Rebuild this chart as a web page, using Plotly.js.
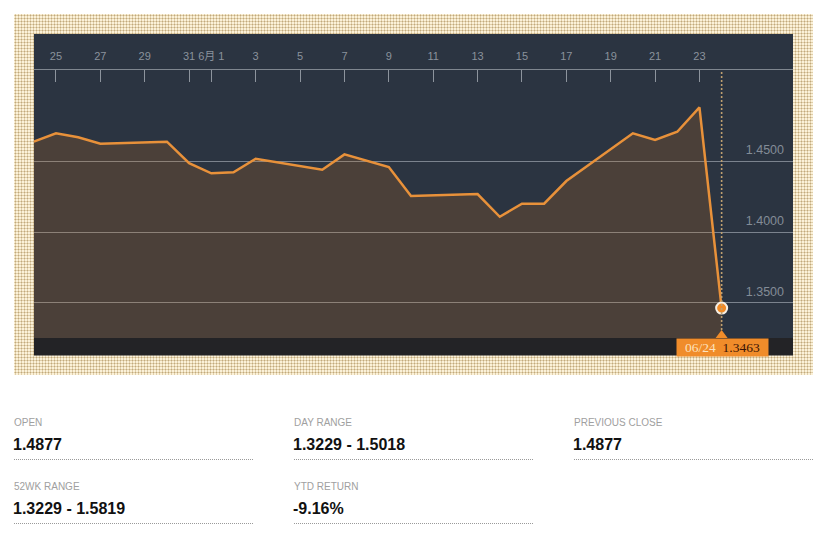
<!DOCTYPE html>
<html>
<head>
<meta charset="utf-8">
<script src="https://cdn.plot.ly/plotly-3.0.1.min.js"></script>
<style>
  html, body { margin: 0; padding: 0; background: #ffffff; }
  #wrap { position: relative; width: 825px; height: 549px; overflow: hidden; }
  #frame {
    position: absolute; left: 14px; top: 14px; width: 799px; height: 361px;
    background-color: #fbf1d8;
    background-image: radial-gradient(circle, #c2a97b 0.9px, rgba(0,0,0,0) 1.1px);
    background-size: 3px 3px;
  }
  #chart { position: absolute; left: 0; top: 0; width: 825px; height: 549px; }
</style>
</head>
<body>
<div id="wrap">
  <div id="frame"></div>
  <div id="chart"></div>
</div>
<script>
// ---- data ----
const dates = ['2016-05-24','2016-05-25','2016-05-26','2016-05-27','2016-05-30','2016-05-31',
  '2016-06-01','2016-06-02','2016-06-03','2016-06-06','2016-06-07','2016-06-08','2016-06-09',
  '2016-06-10','2016-06-13','2016-06-14','2016-06-15','2016-06-16','2016-06-17','2016-06-20',
  '2016-06-21','2016-06-22','2016-06-23','2016-06-24'];
const rates = [1.4642,1.4701,1.4673,1.4627,1.4642,1.4489,
  1.4418,1.4425,1.4521,1.4443,1.4552,1.4505,1.4462,
  1.4257,1.4271,1.4110,1.4203,1.4203,1.4363,1.4701,
  1.4654,1.4712,1.4885,1.3463];
const tickDates = ['2016-05-25','2016-05-27','2016-05-29','2016-05-31','2016-06-01','2016-06-03',
  '2016-06-05','2016-06-07','2016-06-09','2016-06-11','2016-06-13','2016-06-15','2016-06-17',
  '2016-06-19','2016-06-21','2016-06-23'];
const tickLabels = ['25','27','29','31','6月 1','3','5','7','9','11','13','15','17','19','21','23'];
const yTicks = [1.35, 1.40, 1.45];
const lastDateLabel = '06/24';
const statLabels = ['OPEN','DAY RANGE','PREVIOUS CLOSE','52WK RANGE','YTD RETURN'];
const statValues = ['1.4877','1.3229 - 1.5018','1.4877','1.3229 - 1.5819','-9.16%'];

// ---- layout helpers (pixel -> paper) ----
const W = 825, H = 549, L = 34, R = 32, T = 70, B = 211;
const PW = W - L - R, PH = H - T - B;
const px = x => (x - L) / PW;
const py = y => (H - B - y) / PH;

const lastIdx = rates.length - 1;

const traces = [
  {
    x: dates, y: rates, type: 'scatter', mode: 'lines',
    line: { color: '#e8913a', width: 2.5 },
    fill: 'tozeroy', fillcolor: 'rgba(220,120,20,0.18)',
    hoverinfo: 'skip', showlegend: false
  },
  {
    x: [dates[lastIdx]], y: [rates[lastIdx]], type: 'scatter', mode: 'markers',
    marker: { size: 11, color: '#f08a26', line: { color: '#f6efe4', width: 2 } },
    hoverinfo: 'skip', showlegend: false, cliponaxis: false
  }
];

const shapes = [
  // navy panel
  { type: 'rect', xref: 'paper', yref: 'paper', x0: 0, x1: 1, y0: 0, y1: py(34),
    fillcolor: '#2b3441', line: { width: 0 }, layer: 'below' },
  // dark bottom strip
  { type: 'rect', xref: 'paper', yref: 'paper', x0: 0, x1: 1, y0: py(355.5), y1: 0,
    fillcolor: '#232326', line: { width: 0 }, layer: 'above' },
  // vertical dotted line at last date
  { type: 'line', xref: 'x', yref: 'paper', x0: dates[lastIdx], x1: dates[lastIdx], y0: 0, y1: 1,
    line: { color: '#bfa070', width: 1.6, dash: '2px,2px' }, layer: 'above' },
  // triangle pointer
  { type: 'path', xref: 'x', yref: 'paper', xsizemode: 'pixel', ysizemode: 'pixel',
    xanchor: dates[lastIdx], yanchor: 0,
    path: 'M -6 0 L 0 8 L 6 0 Z', fillcolor: '#f08c2a', line: { width: 0 }, layer: 'above' }
];

const annotations = [
  {
    xref: 'x', yref: 'paper', x: dates[lastIdx], y: py(347.2), xanchor: 'center', yanchor: 'middle',
    xshift: 1.3, showarrow: false, width: 91, height: 17, borderpad: 0, bgcolor: '#f08c2a',
    text: '<span style="color:#fde2bd">' + lastDateLabel + '</span>&nbsp;&nbsp;<span style="color:#3a1406">' +
          rates[lastIdx].toFixed(4) + '</span>',
    font: { family: 'Liberation Serif, DejaVu Serif, serif', size: 13.5 }
  }
];

// stats block
const colX = [14, 294, 574, 14, 294];
const rowY = [0, 0, 0, 64, 64];
for (let i = 0; i < statLabels.length; i++) {
  const x0 = colX[i], dy = rowY[i];
  annotations.push({
    xref: 'paper', yref: 'paper', x: px(x0 - 2), y: py(422.7 + dy), xanchor: 'left', yanchor: 'middle',
    showarrow: false, text: statLabels[i],
    font: { family: 'Liberation Sans, Arial, sans-serif', size: 10, color: '#a0a0a0' }
  });
  annotations.push({
    xref: 'paper', yref: 'paper', x: px(x0 - 3), y: py(444.8 + dy), xanchor: 'left', yanchor: 'middle',
    showarrow: false, text: '<b>' + statValues[i] + '</b>',
    font: { family: 'Liberation Sans, Arial, sans-serif', size: 16, color: '#111111' }
  });
  shapes.push({
    type: 'line', xref: 'paper', yref: 'paper', x0: px(x0), x1: px(x0 + 240),
    y0: py(459.5 + dy), y1: py(459.5 + dy),
    line: { color: '#9a9a9a', width: 1, dash: '1px,1px' }
  });
}

const layout = {
  width: W, height: H,
  margin: { l: L, r: R, t: T, b: B, pad: 0 },
  paper_bgcolor: 'rgba(0,0,0,0)',
  plot_bgcolor: '#2b3441',
  showlegend: false,
  xaxis: {
    type: 'date', side: 'top',
    range: ['2016-05-24 00:13', '2016-06-27 05:11'],
    tickmode: 'array', tickvals: tickDates, ticktext: tickLabels,
    ticks: 'inside', ticklen: 12, tickwidth: 1, tickcolor: '#8d949d',
    ticklabelstandoff: 5,
    showline: true, linecolor: '#7f868f', linewidth: 1,
    showgrid: false, zeroline: false,
    tickfont: { family: 'Liberation Sans, Noto Sans CJK SC, sans-serif', size: 11, color: '#8a929c' },
    fixedrange: true
  },
  yaxis: {
    side: 'right',
    range: [1.325142, 1.514943],
    tickmode: 'array', tickvals: yTicks, tickformat: '.4f',
    ticklabelposition: 'inside top',
    ticklabelstandoff: 6, ticklabelshift: -3,
    showgrid: true, gridcolor: '#7b838e', gridwidth: 1,
    zeroline: false, showline: false, ticks: '',
    tickfont: { family: 'Liberation Sans, Arial, sans-serif', size: 12.5, color: '#838c97' },
    fixedrange: true
  },
  shapes: shapes,
  annotations: annotations
};

Plotly.newPlot('chart', traces, layout, { staticPlot: true, displayModeBar: false });
</script>
</body>
</html>
